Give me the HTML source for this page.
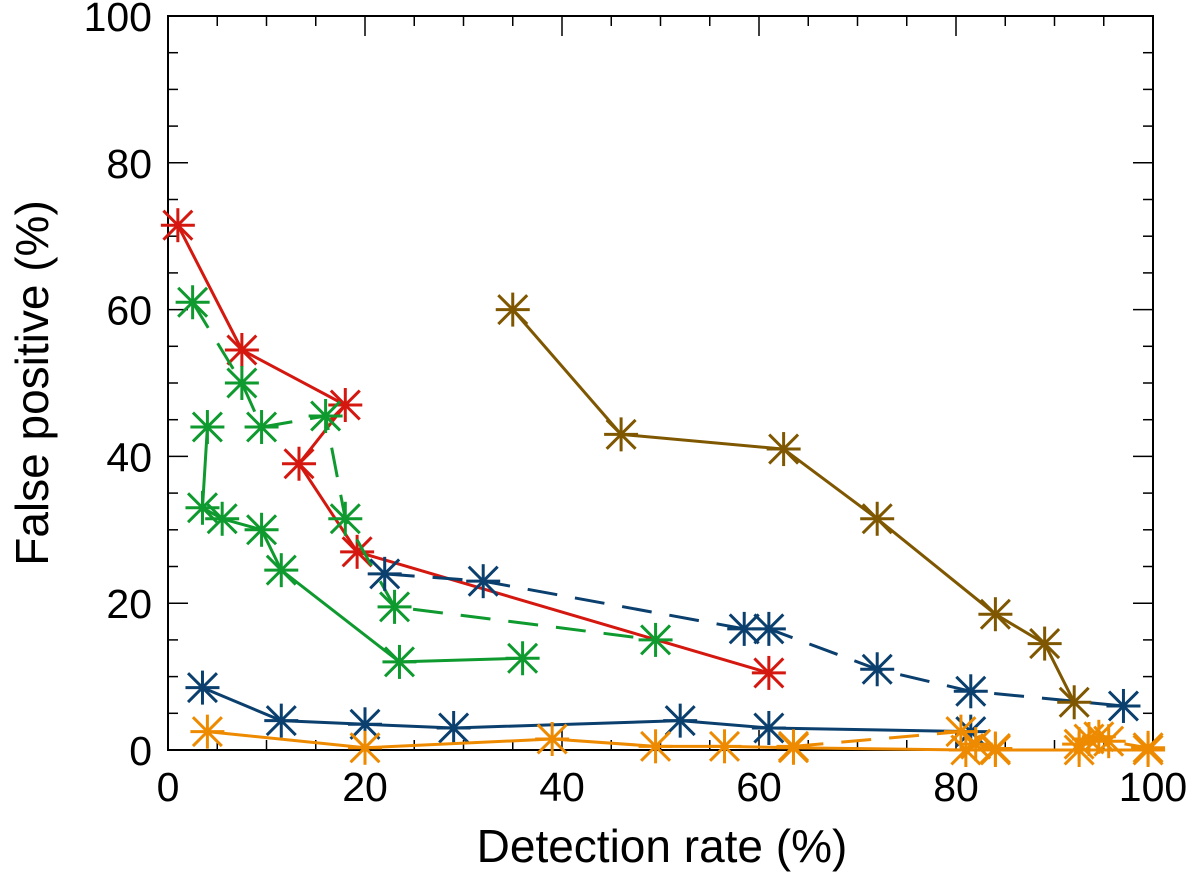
<!DOCTYPE html>
<html><head><meta charset="utf-8"><style>
html,body{margin:0;padding:0;background:#fff;}
svg text{font-family:"Liberation Sans",Arial,sans-serif;fill:#000;}
</style></head><body>
<svg id="chart" width="1200" height="889" xmlns="http://www.w3.org/2000/svg"></svg>
<script>
const xTicks=[0,20,40,60,80,100];
const yTicks=[0,20,40,60,80,100];
const redX=[1,7.5,18,13.3,19.2,61];
const redY=[71.5,54.5,47,39,27,10.5];
const greenSolidX=[4,3.5,5.5,9.5,11.5,23.5,36];
const greenSolidY=[44,33,31.5,30,24.5,12,12.5];
const greenDashX=[2.5,7.5,9.5,16,18,23,49.5];
const greenDashY=[61,50,44,45.5,31.5,19.5,15];
const blueDashX=[22,32,58.5,61,72,81.5,97];
const blueDashY=[24,23,16.5,16.5,11,8,6];
const blueSolidX=[3.5,11.5,20,29,52,61,81.5];
const blueSolidY=[8.5,4,3.5,3,4,3,2.5];
const brownX=[35,46,62.5,72,84,89,92];
const brownY=[60,43,41,31.5,18.5,14.5,6.5];
const orangeSolidX=[4,20,39,49.5,56.5,63.5,81,84,92.5,99.5];
const orangeSolidY=[2.5,0.3,1.5,0.5,0.5,0.3,0,0,0,0];
const orangeDashX=[63.5,80.5,82,84];
const orangeDashY=[0.5,2.5,0.8,0.2];
const orangeDash2X=[92.5,93.5,94.5,95.5,99.5];
const orangeDash2Y=[0.8,1.5,1.8,1.2,0.3];

const L=168,R=1153,T=16,B=750;
const sx=v=>L+(R-L)*v/100;
const sy=v=>B-(B-T)*v/100;
const svg=document.getElementById('chart');
const NS='http://www.w3.org/2000/svg';
function mk(tag,attrs,parent){const e=document.createElementNS(NS,tag);for(const k in attrs)e.setAttribute(k,attrs[k]);(parent||svg).appendChild(e);return e;}

const frame=mk('rect',{x:L,y:T,width:R-L,height:B-T,fill:'none',stroke:'#000','stroke-width':2});


for(let v=0;v<=100;v+=5){
  const len=(v%20===0)?20:10;
  const X=sx(v),Y=sy(v);
  mk('line',{x1:X,y1:B,x2:X,y2:B-len,stroke:'#000','stroke-width':1.5});
  mk('line',{x1:X,y1:T,x2:X,y2:T+len,stroke:'#000','stroke-width':1.5});
  mk('line',{x1:L,y1:Y,x2:L+len,y2:Y,stroke:'#000','stroke-width':1.5});
  mk('line',{x1:R,y1:Y,x2:R-len,y2:Y,stroke:'#000','stroke-width':1.5});
}
xTicks.forEach(v=>{const t=mk('text',{x:sx(v),y:801,'font-size':41,'text-anchor':'middle'});t.textContent=v;

});
yTicks.forEach(v=>{const t=mk('text',{x:152,y:sy(v)+15,'font-size':41,'text-anchor':'end'});t.textContent=v;

});
const xt=mk('text',{x:662,y:862,'font-size':46,'text-anchor':'middle'});xt.textContent='Detection rate (%)';


const yt=mk('text',{x:0,y:0,'font-size':46,'text-anchor':'middle',transform:'translate(48,383) rotate(-90)'});yt.textContent='False positive (%)';



function series(xs,ys,color,dash,name){
  const g=mk('g',{});
  
  
  const pts=xs.map((x,i)=>sx(x)+','+sy(ys[i])).join(' ');
  const pl=mk('polyline',{points:pts,fill:'none',stroke:color,'stroke-width':3,'stroke-dasharray':dash?'30,18':'none'},g);
  
  
  const r=17;
  xs.forEach((x,i)=>{
    const X=sx(x),Y=sy(ys[i]);
    const m=mk('g',{stroke:color,'stroke-width':3},g);
    
    
    mk('line',{x1:X,y1:Y-r,x2:X,y2:Y+r},m);
    mk('line',{x1:X-r,y1:Y,x2:X+r,y2:Y},m);
    const d=r*0.85;
    mk('line',{x1:X-d,y1:Y-d,x2:X+d,y2:Y+d},m);
    mk('line',{x1:X-d,y1:Y+d,x2:X+d,y2:Y-d},m);
  });
}
series(redX,redY,'#d4180f',false,'red-series');
series(greenSolidX,greenSolidY,'#0e9a2e',false,'green-solid-series');
series(greenDashX,greenDashY,'#0e9a2e',true,'green-dashed-series');
series(blueDashX,blueDashY,'#0a3f6e',true,'blue-dashed-series');
series(blueSolidX,blueSolidY,'#0a3f6e',false,'blue-solid-series');
series(brownX,brownY,'#7f5700',false,'brown-series');
series(orangeSolidX,orangeSolidY,'#ee8a00',false,'orange-solid-series');
series(orangeDashX,orangeDashY,'#ee8a00',true,'orange-dashed-series');
series(orangeDash2X,orangeDash2Y,'#ee8a00',true,'orange-dashed-series-2');
</script>
</body></html>
